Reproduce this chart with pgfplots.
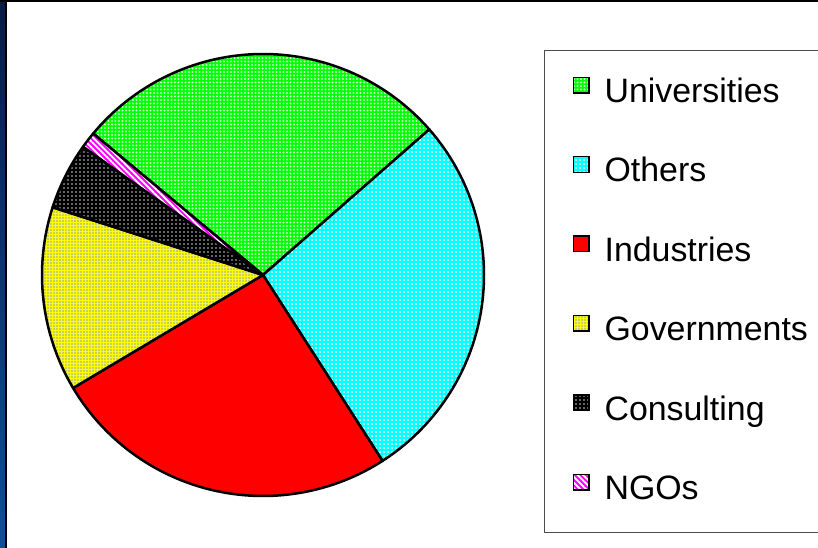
\documentclass[border=0pt]{standalone}
\usepackage{fontspec}
\setmainfont{Liberation Sans}
\usepackage{pgfplots}
\usepackage{pgfplotstable}
\pgfplotsset{compat=1.18}
\usetikzlibrary{patterns,patterns.meta}

% shares in percent, clockwise from the start angle
\pgfplotstableread{
label value
Universities 27.5
Others 27.35
Industries 25.55
Governments 13.5
Consulting 4.9
NGOs 1.2
}\piedata

\definecolor{navyA}{RGB}{8,28,70}
\definecolor{navyB}{RGB}{18,78,150}
\definecolor{dotgray}{RGB}{150,160,185}

\tikzset{
  slice0/.style={preaction={fill={rgb,255:red,0;green,255;blue,0}}, pattern={Dots[distance=3.5bp,radius=1.1bp]}, pattern color=white!80!green},
  slice1/.style={preaction={fill={rgb,255:red,0;green,255;blue,255}}, pattern={Dots[distance=4bp,radius=1.1bp]}, pattern color=white},
  slice2/.style={fill={rgb,255:red,255;green,0;blue,0}},
  slice3/.style={preaction={fill={rgb,255:red,255;green,255;blue,0}}, pattern={Dots[distance=3bp,radius=0.8bp]}, pattern color=dotgray},
  slice4/.style={preaction={fill=black}, pattern={Dots[distance=4bp,radius=0.9bp]}, pattern color=white!80!black},
  slice5/.style={preaction={fill={rgb,255:red,255;green,0;blue,255}}, pattern={Lines[angle=-45,distance=4bp,line width=1.8bp]}, pattern color=white},
}

\begin{document}
\begin{tikzpicture}
\useasboundingbox (0,0) rectangle (818bp,548bp);
\clip (0,0) rectangle (818bp,548bp);
\fill[white] (0,0) rectangle (818bp,548bp);
\shade[top color=navyA, bottom color=navyB] (0,0) rectangle (5bp,548bp);
\fill[black] (5bp,0) rectangle (6.5bp,548bp);
\fill[black] (0,545.5bp) rectangle (818bp,548bp);
\begin{axis}[
    hide axis,
    x=221bp, y=221bp,
    xmin=-1, xmax=1, ymin=-1, ymax=1,
    anchor=origin, at={(263bp,273bp)},
    clip=false,
    legend image code/.code={\path[draw=black, line width=1.4bp, #1] (0bp,0.6bp) rectangle (15.6bp,16.2bp);},
    legend cell align=left,
    legend style={at={(1.1357,1.009)}, anchor=north west,
        draw=black!70, line width=1.2bp, fill=white,
        font=\fontsize{34}{40}\selectfont,
        inner xsep=28bp, inner ysep=26bp, row sep=46.5bp, column sep=15bp,
        nodes={inner sep=0bp, text height=25bp, text depth=7bp}},
    ]
    \pgfplotsextra{
        \def\angA{140.2}
        \pgfplotsforeachungrouped \i in {0,...,5}{
            \pgfplotstablegetelem{\i}{value}\of\piedata
            \pgfmathsetmacro\angB{\angA-3.6*\pgfplotsretval}
            \path[slice\i, draw=black, line width=2.5bp, line join=round]
                (axis cs:0,0) -- ++(\angA:221bp)
                arc[start angle=\angA, end angle=\angB, radius=221bp] -- cycle;
            \let\angA=\angB
        }
    }
    \addlegendimage{slice0}\addlegendentry{Universities}
    \addlegendimage{slice1}\addlegendentry{Others}
    \addlegendimage{slice2}\addlegendentry{Industries}
    \addlegendimage{slice3}\addlegendentry{Governments}
    \addlegendimage{slice4}\addlegendentry{Consulting}
    \addlegendimage{slice5}\addlegendentry{NGOs}
\end{axis}
\end{tikzpicture}
\end{document}
